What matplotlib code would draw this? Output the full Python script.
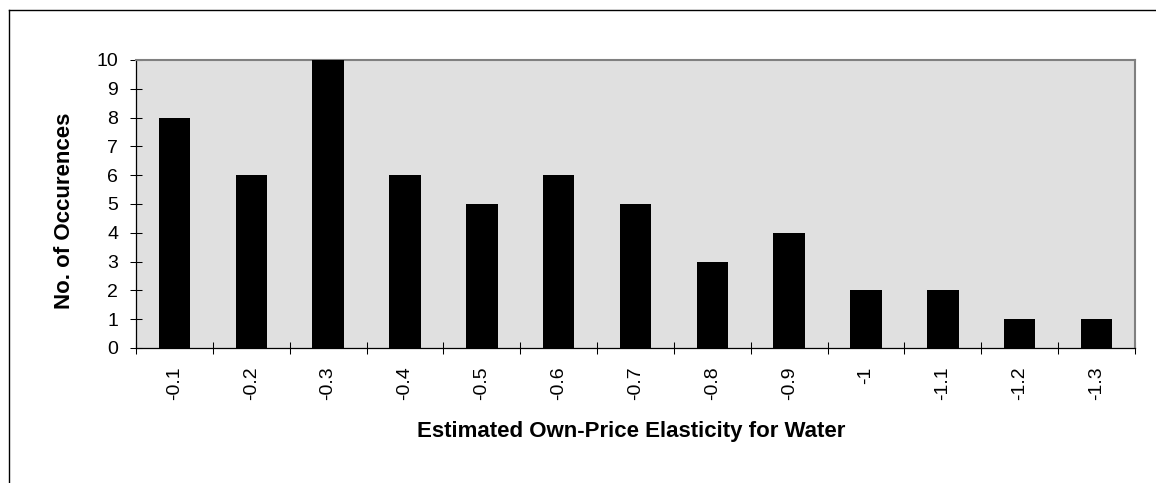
import numpy as np
import matplotlib.pyplot as plt
from matplotlib.lines import Line2D

plt.rcParams['font.family'] = ['Liberation Sans', 'DejaVu Sans']

elasticity = ['-0.1', '-0.2', '-0.3', '-0.4', '-0.5', '-0.6', '-0.7',
              '-0.8', '-0.9', '-1', '-1.1', '-1.2', '-1.3']
occurrences = [8, 6, 10, 6, 5, 6, 5, 3, 4, 2, 2, 1, 1]

W, H = 1156, 483
fig = plt.figure(figsize=(W / 100, H / 100), dpi=100)
ax = fig.add_axes([136 / W, 1 - 348 / H, (1135 - 136) / W, (348 - 60) / H])

x = np.arange(len(elasticity))
ax.bar(x, occurrences, width=0.41, color='black', zorder=3)

ax.set_facecolor('#e0e0e0')
ax.set_xlim(-0.5, len(elasticity) - 0.5)
ax.set_ylim(0, 10)
ax.set_yticks(range(0, 11))

# category ticks sit on the boundaries, labels under the bar centres
ax.set_xticks(np.arange(-0.5, len(elasticity)))
ax.set_xticklabels([])
ax.set_xticks(x, minor=True)
ax.set_xticklabels(elasticity, minor=True, rotation=90, fontsize=14)
ax.tick_params(axis='x', which='minor', length=0, pad=13.5)
ax.tick_params(axis='x', which='major', direction='inout', length=8.6, width=0.75)
ax.tick_params(axis='y', direction='inout', length=8.6, width=0.75,
               labelsize=14, pad=8.6)

for side in ['top', 'right']:
    ax.spines[side].set_color('#808080')
    ax.spines[side].set_linewidth(1.5)
for side in ['left', 'bottom']:
    ax.spines[side].set_color('black')
    ax.spines[side].set_linewidth(0.9)

ax.set_xlabel('Estimated Own-Price Elasticity for Water', fontsize=16,
              fontweight='bold', va='top')
ax.xaxis.set_label_coords(0.4955, -0.253)
ax.set_ylabel('No. of Occurences', fontsize=16, fontweight='bold')
ax.yaxis.set_label_coords(-0.061, 0.476)

# frame lines of the chart area
fig.add_artist(Line2D([9 / W, 1], [1 - 10 / H, 1 - 10 / H], color='black', lw=1.0,
                      transform=fig.transFigure))
fig.add_artist(Line2D([9 / W, 9 / W], [0, 1 - 10 / H], color='black', lw=1.0,
                      transform=fig.transFigure))

fig.savefig('out.png', dpi=100)
